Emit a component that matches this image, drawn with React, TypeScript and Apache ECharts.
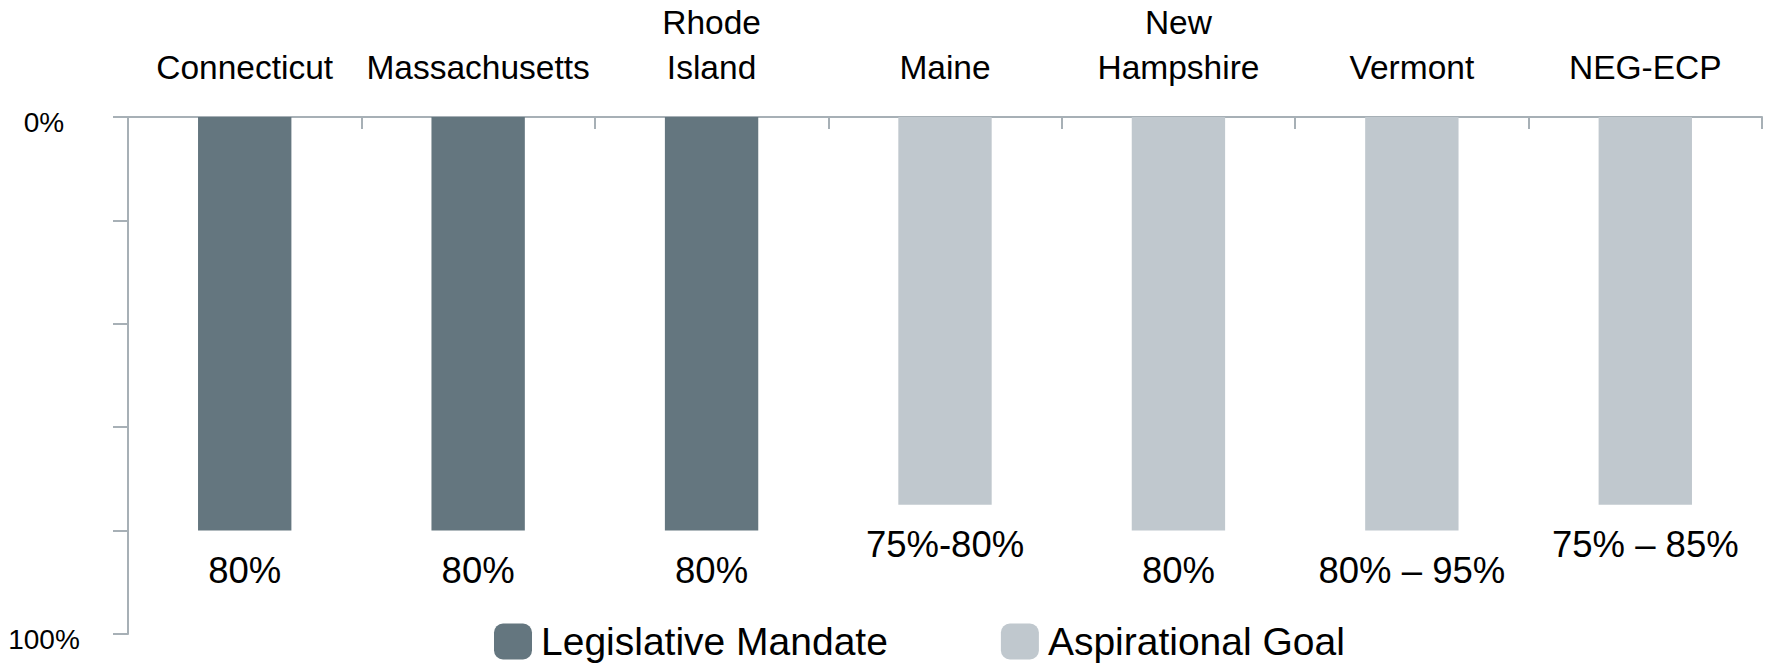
import React, { useEffect, useRef } from "react";
import * as echarts from "echarts";

const categories = [
  "Connecticut",
  "Massachusetts",
  "Rhode\nIsland",
  "Maine",
  "New\nHampshire",
  "Vermont",
  "NEG-ECP",
];
const seriesNames = ["Legislative Mandate", "Aspirational Goal"];
const mandateValues: (number | null)[] = [80, 80, 80, null, null, null, null];
const goalValues: (number | null)[] = [null, null, null, 75, 80, 80, 75];
const valueLabels = ["80%", "80%", "80%", "75%-80%", "80%", "80% – 95%", "75% – 85%"];
const yTickLabels: Record<number, string> = { 0: "0%", 100: "100%" };

const FONT = "'Liberation Sans', Arial, sans-serif";
const DARK = "#64767f";
const LIGHT = "#c0c8ce";
const AXIS = "#a7b0b6";

export default function App() {
  const ref = useRef<HTMLDivElement>(null);
  useEffect(() => {
    if (!ref.current) return;
    const chart = echarts.init(ref.current, undefined, { renderer: "svg" });
    const mk = (vals: (number | null)[]) =>
      vals.map((v, i) =>
        v == null
          ? "-"
          : {
              value: v,
              label: { formatter: valueLabels[i] },
            }
      );
    const label = {
      show: true,
      position: "bottom",
      distance: 17,
      fontFamily: FONT,
      fontSize: 36.5,
      lineHeight: 46,
      color: "#000",
    };
    chart.setOption({
      animation: false,
      textStyle: { fontFamily: FONT },
      grid: { left: 128, right: 6, top: 117, bottom: 32, containLabel: false },
      legend: {
        data: seriesNames,
        left: 494,
        top: 622,
        padding: 0,
        icon: "roundRect",
        itemWidth: 38,
        itemHeight: 36,
        itemGap: 113,
        textStyle: { fontFamily: FONT, fontSize: 39, color: "#000", padding: [0, 0, 0, 4] },
      },
      xAxis: {
        type: "category",
        position: "top",
        data: categories,
        axisLine: { show: true, lineStyle: { color: AXIS, width: 2 } },
        axisTick: { show: true, inside: true, length: 12, lineStyle: { color: AXIS, width: 2 } },
        axisLabel: {
          interval: 0,
          margin: 27,
          fontFamily: FONT,
          fontSize: 33.5,
          lineHeight: 45,
          color: "#000",
        },
      },
      yAxis: {
        type: "value",
        inverse: true,
        min: 0,
        max: 100,
        interval: 20,
        splitLine: { show: false },
        axisLine: { show: true, lineStyle: { color: AXIS, width: 2 } },
        axisTick: { show: true, length: 15, lineStyle: { color: AXIS, width: 2 } },
        axisLabel: {
          margin: 84,
          align: "center",
          verticalAlign: "top",
          lineHeight: 10,
          fontFamily: FONT,
          fontSize: 28,
          color: "#000",
          formatter: (v: number) => yTickLabels[v] ?? "",
        },
      },
      series: [
        {
          name: seriesNames[0],
          type: "bar",
          barWidth: "40%",
          barGap: "-100%",
          itemStyle: { color: DARK },
          label,
          data: mk(mandateValues),
        },
        {
          name: seriesNames[1],
          type: "bar",
          barWidth: "40%",
          barGap: "-100%",
          itemStyle: { color: LIGHT },
          label,
          data: mk(goalValues),
        },
      ],
    });
    return () => chart.dispose();
  }, []);
  return (
    <div
      ref={ref}
      style={{ position: "fixed", left: 0, top: 0, width: 1768, height: 666, background: "#fff" }}
    />
  );
}
